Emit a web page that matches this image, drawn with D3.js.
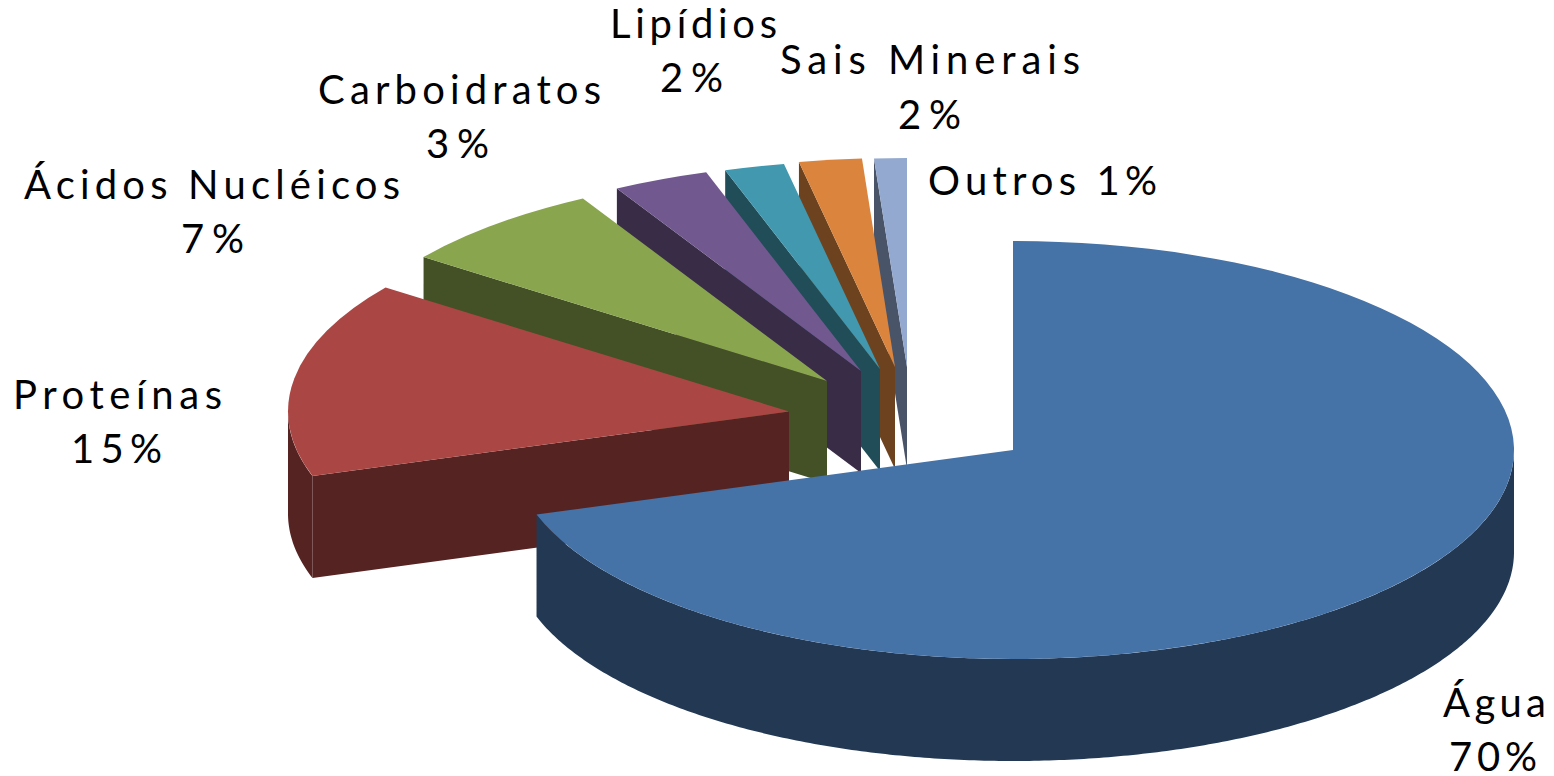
<!DOCTYPE html>
<html lang="pt">
<head>
<meta charset="utf-8">
<title>Composição</title>
<script src="https://cdn.jsdelivr.net/npm/d3@7"></script>
<style>
html,body{margin:0;padding:0;background:#fff;overflow:hidden}
svg{display:block}
text{font-family:Lato,"Open Sans",sans-serif;fill:#000;font-size:40px}
</style>
</head>
<body>
<svg id="chart" width="1554" height="776"></svg>
<script>
// Data
const categories = ["Água", "Proteínas", "Ácidos Nucléicos", "Carboidratos", "Lipídios", "Sais Minerais", "Outros"];
const seriesValues = [70, 15.1, 6.8, 3.1, 1.93, 2.02, 1.05];
const topColors = ["#4572A7", "#AA4643", "#89A54E", "#71588F", "#4198AF", "#DB843D", "#93A9CF"];
const sideColors = ["#233953", "#552322", "#445126", "#392C47", "#204D58", "#6D421F", "#4A5468"];

// Layout (separate from the data)
const rx = 501, ry = 209, depth = 102;
const apexes = [[1013,450],[789,411.5],[827,381],[861,371],[880,369],[895,367],[907,367]];
const labelBoxes = [
  {lines:[[1443,717,103],[1449,771,88]]},
  {lines:[[13,409,209],[71,463,91]]},
  {lines:[[24,199,376],[181,253,63]]},
  {lines:[[318,104,283],[426,158,63]]},
  {lines:[[610,38,167],[660,92,63]]},
  {lines:[[780,74,300],[898,129,63]]},
  {lines:[[928,195,229]]}
];

const svg = d3.select("#chart");
const pie = d3.pie().sort(null).value(d => d.value).startAngle(0).endAngle(2*Math.PI);
const slices = pie(categories.map((c,i) => ({name:c, value:seriesValues[i], i})));
const arc = d3.arc().innerRadius(0).outerRadius(rx);
const px = (d,a) => apexes[d.data.i][0] + rx*Math.sin(a);
const py = (d,a) => apexes[d.data.i][1] - ry*Math.cos(a);

const drawOrder = slices.slice().reverse(); // back to front
const g = svg.selectAll("g.slice").data(drawOrder).join("g").attr("class","slice");

// Radial side wall at the slice's starting edge
const line = d3.line();
g.filter(d => d.data.i !== 0).append("path")
  .attr("fill", d => sideColors[d.data.i])
  .attr("d", d => {
    const [ax,ay] = apexes[d.data.i];
    const x = px(d,d.startAngle), y = py(d,d.startAngle);
    return line([[ax,ay],[x,y],[x,y+depth],[ax,ay+depth]]) + "Z";
  });

// Outer curved wall on the front half
const wall = d3.area().x(p => p.x).y0(p => p.y).y1(p => p.y + depth);
g.append("path")
  .attr("fill", d => sideColors[d.data.i])
  .attr("d", d => {
    const a0 = Math.max(d.startAngle, Math.PI/2), a1 = Math.min(d.endAngle, 3*Math.PI/2);
    if (a1 <= a0) return null;
    const n = Math.ceil((a1-a0)/0.01);
    return wall(d3.range(n+1).map(k => {
      const a = a0 + (a1-a0)*k/n;
      return {x:px(d,a), y:py(d,a)};
    }));
  });

// Top face
g.append("path")
  .attr("fill", d => topColors[d.data.i])
  .attr("transform", d => `translate(${apexes[d.data.i][0]},${apexes[d.data.i][1]}) scale(1,${ry/rx})`)
  .attr("d", arc);

// Labels
const pct = d3.format(".0f");
slices.forEach(d => {
  const i = d.data.i;
  const share = pct(d.value) + "%";
  const strs = labelBoxes[i].lines.length === 2 ? [categories[i], share] : [categories[i] + " " + share];
  labelBoxes[i].lines.forEach((l,k) => {
    svg.append("text")
      .attr("x", l[0]).attr("y", l[1])
      .attr("textLength", l[2]).attr("lengthAdjust","spacing")
      .style("white-space","pre")
      .text(strs[k]);
  });
});
</script>
</body>
</html>
